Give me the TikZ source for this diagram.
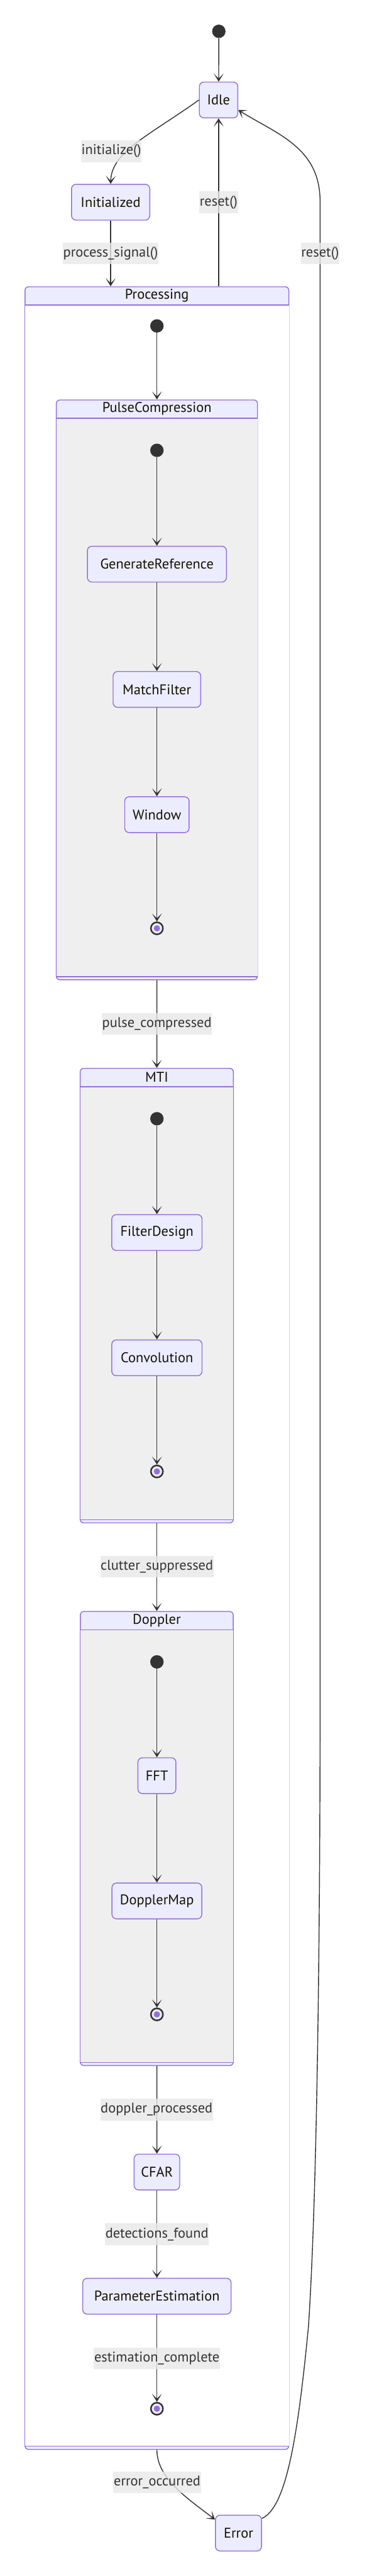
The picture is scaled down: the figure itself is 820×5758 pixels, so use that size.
\documentclass[tikz,border=0pt]{standalone}
\usepackage{fontspec}
\setmainfont{PT Sans}
\usepackage{xcolor}
\definecolor{statefill}{RGB}{236,236,255}
\definecolor{statestroke}{RGB}{147,112,219}
\definecolor{clusterbody}{RGB}{239,239,239}
\definecolor{edgecol}{RGB}{51,51,51}
\definecolor{labelbg}{RGB}{232,232,232}
\definecolor{statetext}{RGB}{19,19,0}
\usepackage{tikz}
\usetikzlibrary{arrows.meta}

\newcommand{\statefont}{\fontsize{31.5}{37}\selectfont}
\newcommand{\compstate}[7]{%
  \node[cluster, minimum width=#4pt, minimum height=#5pt, anchor=north] (#1) at (#2,#3) {};
  \fill[#6] ([shift={(1,42)}]#1.north west) rectangle ([shift={(-1,-8)}]#1.south east);
  \draw[clusterline] ([shift={(0,42)}]#1.north west) -- ([shift={(0,42)}]#1.north east);
  \draw[clusterline] ([shift={(0,-8)}]#1.south west) -- ([shift={(0,-8)}]#1.south east);
  \node[font=\statefont, text=statetext] (#1-title) at ([shift={(0,21)}]#1.north) {#7};
}

\begin{document}
\begin{tikzpicture}[x=1pt, y=-1pt]

  \tikzstyle{state} = [
    rectangle, rounded corners=10pt,
    draw=statestroke, fill=statefill, line width=2pt,
    minimum height=80pt, inner sep=0pt,
    font=\statefont, text=statetext
  ]
  \tikzstyle{cluster} = [
    rectangle, rounded corners=8pt,
    draw=statestroke, fill=statefill, line width=2pt, inner sep=0pt
  ]
  \tikzstyle{clusterline} = [draw=statestroke, line width=2pt]
  \tikzstyle{startstate} = [circle, fill=edgecol, minimum size=30pt, inner sep=0pt]
  \tikzstyle{endstate} = [
    circle, draw=edgecol, line width=3.5pt, fill=statefill,
    minimum size=27pt, inner sep=0pt,
    path picture={\fill[statestroke] (path picture bounding box.center) circle (7pt);}
  ]
  \tikzstyle{edgelabel} = [
    fill=labelbg, fill opacity=0.8, text opacity=1, text=edgecol,
    inner xsep=1pt, inner ysep=0pt, minimum height=48pt,
    font=\statefont
  ]
  \tikzstyle{transition} = [
    draw=edgecol, line width=2pt,
    -{Stealth[length=18pt, width=22pt, inset=11pt]}
  ]

  \useasboundingbox (0,0) rectangle (820,5758);

  \node[startstate] (start) at (489.5,70) {};
  \node[state, minimum width=86pt] (idle) at (489,223.5) {Idle};
  \node[state, minimum width=175pt] (init) at (247.5,452) {Initialized};

  \compstate{proc}{351}{640}{590}{4834}{white}{Processing}
  \node[startstate] (pstart) at (351,728.5) {};

  \compstate{pc}{351}{893}{450}{1296}{clusterbody}{PulseCompression}
  \node[startstate] (pcstart) at (351,1006.6) {};
  \node[state, minimum width=311pt] (genref) at (351,1261) {GenerateReference};
  \node[state, minimum width=196pt] (match) at (351,1541) {MatchFilter};
  \node[state, minimum width=144pt] (window) at (351,1821) {Window};
  \node[endstate] (pcend) at (351,2075) {};

  \compstate{mti}{350.7}{2387}{342.6}{1016}{clusterbody}{MTI}
  \node[startstate] (mtistart) at (351,2500.6) {};
  \node[state, minimum width=202pt] (filter) at (351,2755) {FilterDesign};
  \node[state, minimum width=202pt] (conv) at (351,3035) {Convolution};
  \node[endstate] (mtiend) at (351,3289) {};

  \compstate{dop}{350.7}{3601}{342}{1015}{clusterbody}{Doppler}
  \node[startstate] (dopstart) at (351,3714.7) {};
  \node[state, minimum width=85pt] (fft) at (351,3969) {FFT};
  \node[state, minimum width=201pt] (dmap) at (351,4249) {DopplerMap};
  \node[endstate] (dopend) at (351,4502.6) {};

  \node[state, minimum width=102pt] (cfar) at (351,4855) {CFAR};
  \node[state, minimum width=332pt] (param) at (351,5132.6) {ParameterEstimation};
  \node[endstate] (procend) at (351,5384) {};

  \node[state, minimum width=103pt] (error) at (533.5,5662) {Error};

  \draw[transition] (start) -- (idle);
  \draw[transition] (idle.west) .. controls (330,305) and (249,340) .. (init.north);
  \draw[transition] (init) -- (init |- proc.north);
  \draw[transition] (idle |- proc.north) -- (idle);
  \draw[transition] (proc.south) .. controls (351,5540) and (420,5585) .. (error.150);
  \draw[transition] (error.32) .. controls (640,5605) and (666,5450) .. (690,5200)
    .. controls (710,4900) and (716,4300) .. (716,3800) -- (716,450)
    .. controls (716,330) and (620,300) .. (idle.-27);

  \draw[transition] (pstart) -- (pc);
  \draw[transition] (pcstart) -- (genref);
  \draw[transition] (genref) -- (match);
  \draw[transition] (match) -- (window);
  \draw[transition] (window) -- (pcend);
  \draw[transition] (pc) -- (mti);
  \draw[transition] (mtistart) -- (filter);
  \draw[transition] (filter) -- (conv);
  \draw[transition] (conv) -- (mtiend);
  \draw[transition] (mti) -- (dop);
  \draw[transition] (dopstart) -- (fft);
  \draw[transition] (fft) -- (dmap);
  \draw[transition] (dmap) -- (dopend);
  \draw[transition] (dop) -- (cfar);
  \draw[transition] (cfar) -- (param);
  \draw[transition] (param) -- (procend);

  \node[edgelabel] (l-init) at (249,338) {initialize()};
  \node[edgelabel] (l-reset1) at (489,452) {reset()};
  \node[edgelabel] (l-process) at (247.5,566) {process\_signal()};
  \node[edgelabel] (l-reset2) at (716,566) {reset()};
  \node[edgelabel] (l-pulse) at (351,2288) {pulse\_compressed};
  \node[edgelabel] (l-clutter) at (351,3502) {clutter\_suppressed};
  \node[edgelabel] (l-doppler) at (350.4,4715.5) {doppler\_processed};
  \node[edgelabel] (l-detect) at (351,4994) {detections\_found};
  \node[edgelabel] (l-estim) at (351,5271.5) {estimation\_complete};
  \node[edgelabel] (l-error) at (351.5,5548) {error\_occurred};

\end{tikzpicture}
\end{document}
